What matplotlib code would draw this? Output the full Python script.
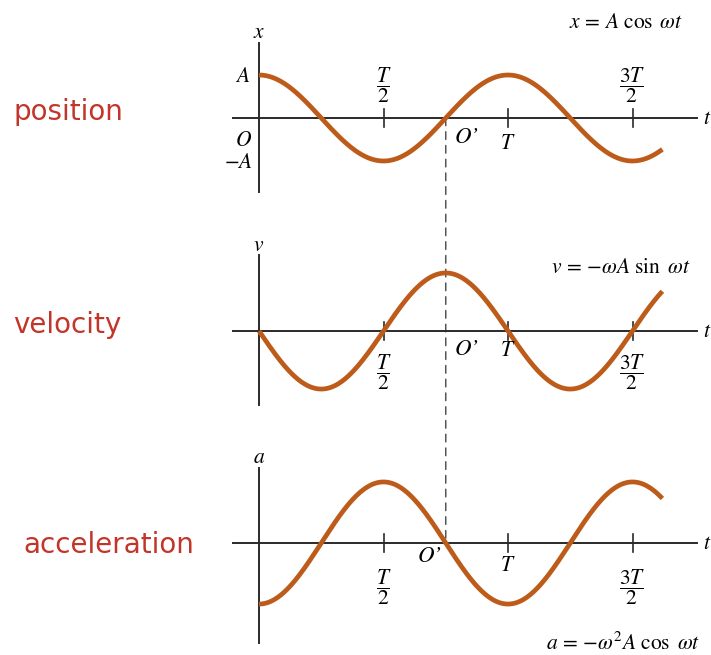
import numpy as np
import matplotlib.pyplot as plt
from matplotlib.patches import ConnectionPatch

plt.rcParams['mathtext.fontset'] = 'stix'

# time measured in periods T, values measured in units of A on the x plot
t_end = 1.62
t_ticks = [0.5, 1.0, 1.5]
t_prime = 0.75
amplitudes = [1.0, 1.35, 1.42]
panel_names = ['position', 'velocity', 'acceleration']
y_symbols = ['x', 'v', 'a']
formulas = [r'$x\,=\,A\ \cos\ \omega t$',
            r'$v\,=\,{-\omega} A\ \sin\ \omega t$',
            r'$a\,=\,{-\omega^2} A\ \cos\ \omega t$']

W, H = 711, 655
px_T = 249.0      # pixels per period
px_A = 43.0       # pixels per unit of A
x0_px = 259.0     # pixel column of t = 0
centers_px = [118, 331, 543]

curve_color = '#bd5c1a'
axis_color = '#2a2a2a'
label_color = '#c2352a'

fig = plt.figure(figsize=(W / 100, H / 100), dpi=100)

def make_axes(yc):
    left, right = 225, 711
    half = 105
    ax = fig.add_axes([left / W, 1 - (yc + half) / H, (right - left) / W, 2 * half / H])
    ax.set_xlim((left - x0_px) / px_T, (right - x0_px) / px_T)
    ax.set_ylim(-half / px_A, half / px_A)
    ax.axis('off')
    ax.patch.set_visible(False)
    return ax

axes = [make_axes(yc) for yc in centers_px]

t = np.linspace(0, t_end, 500)
curves = [amplitudes[0] * np.cos(2 * np.pi * t),
          -amplitudes[1] * np.sin(2 * np.pi * t),
          -amplitudes[2] * np.cos(2 * np.pi * t)]

# vertical axis extents (top, bottom) for each plot
v_extent = [(1.74, -1.72), (1.77, -1.72), (1.74, -2.33)]

tfs = 15.5

def oprime(ax, x, y):
    ax.text(x, y, 'O\u2019', fontsize=tfs + 1, family=['STIXGeneral', 'DejaVu Serif'],
            style='italic', ha='center', va='center')

for i, ax in enumerate(axes):
    ax.plot([-0.104, 1.76], [0, 0], color=axis_color, lw=1.4, zorder=2)
    ax.plot([0, 0], v_extent[i], color=axis_color, lw=1.4, zorder=2)
    for tk in t_ticks:
        ax.plot([tk, tk], [-0.22, 0.22], color=axis_color, lw=1.2, zorder=2)
    ax.plot(t, curves[i], color=curve_color, lw=3.4, solid_capstyle='butt', zorder=3)
    ax.text(1.8, 0, r'$t$', fontsize=tfs, ha='center', va='center')
    ax.text(0, 2.0, r'$%s$' % y_symbols[i], fontsize=tfs, ha='center', va='center')

# position plot labels
ax = axes[0]
ax.text(0.5, 0.77, r'$\dfrac{T}{2}$', fontsize=tfs, ha='center', va='center')
ax.text(1.5, 0.77, r'$\dfrac{3T}{2}$', fontsize=tfs, ha='center', va='center')
ax.text(1.0, -0.58, r'$T$', fontsize=tfs, ha='center', va='center')
ax.text(-0.064, -0.51, r'$O$', fontsize=tfs, ha='center', va='center')
oprime(ax, 0.835, -0.45)
ax.text(-0.064, 0.98, r'$A$', fontsize=tfs, ha='center', va='center')
ax.text(-0.084, -1.02, r'$-A$', fontsize=tfs, ha='center', va='center')
ax.text(1.703, 2.23, formulas[0], fontsize=tfs, ha='right', va='center')

# velocity plot labels
ax = axes[1]
ax.text(0.5, -0.95, r'$\dfrac{T}{2}$', fontsize=tfs, ha='center', va='center')
ax.text(1.5, -0.95, r'$\dfrac{3T}{2}$', fontsize=tfs, ha='center', va='center')
ax.text(1.0, -0.44, r'$T$', fontsize=tfs, ha='center', va='center')
oprime(ax, 0.835, -0.42)
ax.text(1.731, 1.49, formulas[1], fontsize=tfs, ha='right', va='center')

# acceleration plot labels
ax = axes[2]
ax.text(0.5, -1.02, r'$\dfrac{T}{2}$', fontsize=tfs, ha='center', va='center')
ax.text(1.5, -1.02, r'$\dfrac{3T}{2}$', fontsize=tfs, ha='center', va='center')
ax.text(1.0, -0.51, r'$T$', fontsize=tfs, ha='center', va='center')
oprime(ax, 0.687, -0.31)
ax.text(1.771, -2.33, formulas[2], fontsize=tfs, ha='right', va='center')

# dashed guide through O' across all three plots
con = ConnectionPatch(xyA=(t_prime, 0), coordsA=axes[0].transData,
                      xyB=(t_prime, 0), coordsB=axes[2].transData,
                      color='#555555', lw=1.1, linestyle=(0, (5, 4)), zorder=-1)
fig.add_artist(con)

label_pos = [(13, 112), (13, 325), (23, 545)]
for name, (lx, ly) in zip(panel_names, label_pos):
    fig.text(lx / W, 1 - ly / H, name, fontsize=20, color=label_color,
             ha='left', va='center', family='DejaVu Sans')

fig.savefig('out.png', dpi=100)
